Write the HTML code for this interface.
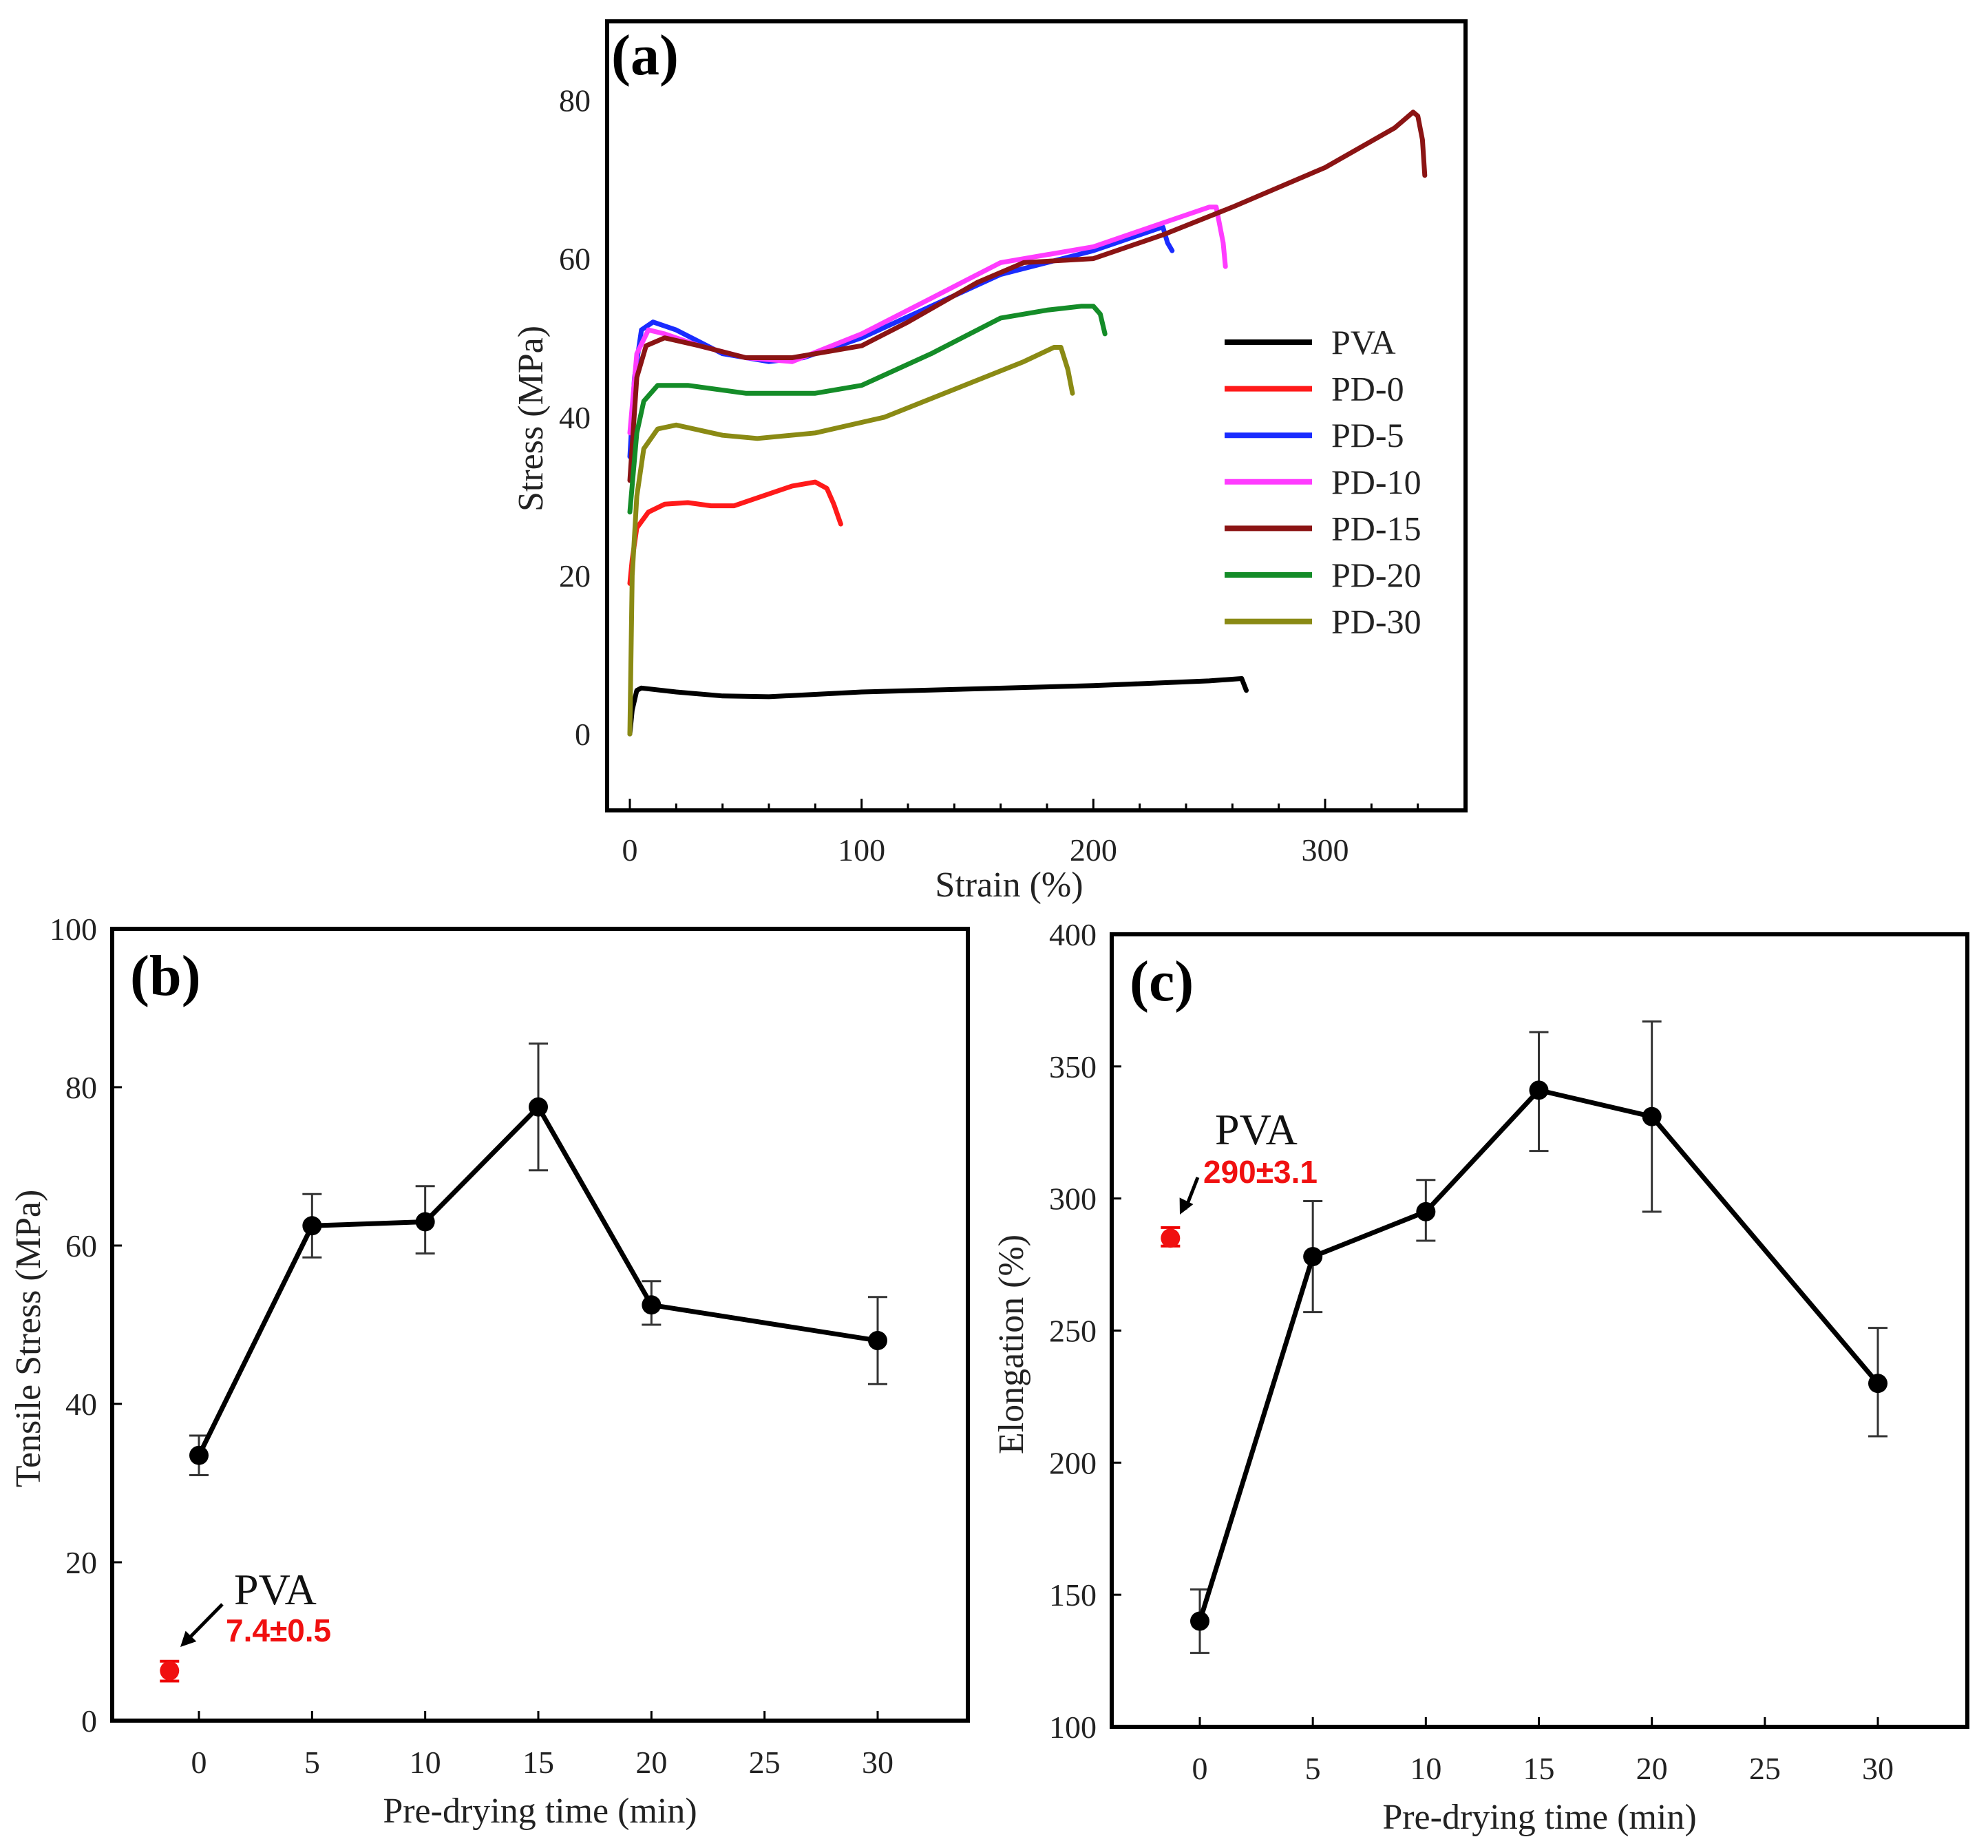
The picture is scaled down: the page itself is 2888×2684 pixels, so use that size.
<!DOCTYPE html>
<html><head><meta charset="utf-8"><style>
html,body{margin:0;padding:0;background:#fff}
svg{display:block;font-family:"Liberation Serif",serif}
</style></head><body>
<svg id="fig" xmlns="http://www.w3.org/2000/svg" width="2888" height="2684" viewBox="0 0 2888 2684">
<rect x="0" y="0" width="2888" height="2684" fill="#fff"/>
<g id="pa"></g>
<g id="pb"></g>
<g id="pc"></g>
</svg>
<script>
// ---- Panel (a) data ----
const seriesNames = ["PVA","PD-0","PD-5","PD-10","PD-15","PD-20","PD-30"];
const seriesColors = ["#000000","#ff1a1a","#1a2cff","#ff3cff","#8b1414","#148c28","#8a8a14"];
const strainPVA = [0,1,3,5,20,40,60,80,100,150,200,250,264,266];
const stressPVA = [0,3,5.5,5.8,5.3,4.8,4.7,5,5.3,5.7,6.1,6.7,7,5.5];
const strainPD0 = [0,1,3,8,15,25,35,45,55,70,80,85,88,91];
const stressPD0 = [19,22,26,28,29,29.2,28.8,28.8,29.8,31.3,31.8,31,29,26.5];
const strainPD5 = [0,2,5,10,20,40,60,75,100,130,160,200,230,232,234];
const stressPD5 = [35,45,51,52,51,48,47,47.5,50,54,58,61,64,62,61];
const strainPD10 = [0,3,8,15,30,50,70,100,130,160,200,230,250,253,256,257];
const stressPD10 = [38,48,51,50.5,49,47.5,47,50.5,55,59.5,61.5,64.5,66.5,66.5,62,59];
const strainPD15 = [0,3,7,15,30,50,70,100,120,150,170,200,230,260,300,330,338,340,342,343];
const stressPD15 = [32,45,49,50,49,47.5,47.5,49,52,57,59.5,60,63,66.5,71.5,76.5,78.5,78,75,70.5];
const strainPD20 = [0,3,6,12,25,50,80,100,130,160,180,195,200,203,205];
const stressPD20 = [28,38,42,44,44,43,43,44,48,52.5,53.5,54,54,53,50.5];
const strainPD30 = [0,1,3,6,12,20,40,55,80,110,140,170,183,186,189,191];
const stressPD30 = [0,20,30,36,38.5,39,37.7,37.3,38,40,43.5,47,48.8,48.8,46,43];
const aXTicks = [0,100,200,300];
const aYTicks = [0,20,40,60,80];
// ---- Panel (b) data ----
const timeCats = [0,5,10,15,20,30];
const bXTicks = [0,5,10,15,20,25,30];
const bYTicks = [0,20,40,60,80,100];
const tensileMean = [33.5,62.5,63,77.5,52.5,48];
const tensileLow = [31,58.5,59,69.5,50,42.5];
const tensileHigh = [36,66.5,67.5,85.5,55.5,53.5];
const pvaTensile = [6.3,5,7.5];
// ---- Panel (c) data ----
const cYTicks = [100,150,200,250,300,350,400];
const elongMean = [140,278,295,341,331,230];
const elongLow = [128,257,284,318,295,210];
const elongHigh = [152,299,307,363,367,251];
const pvaElong = [285,282,289];

const NS="http://www.w3.org/2000/svg";
function mk(parent,tag,attrs,text){
  const e=document.createElementNS(NS,tag);
  for(const k in attrs) e.setAttribute(k,attrs[k]);
  if(text!==undefined) e.textContent=text;
  parent.appendChild(e); return e;
}
function lin(d0,d1,r0,r1){return v=>r0+(v-d0)*(r1-r0)/(d1-d0);}

// ===== Panel A =====
(function(){
  const g=document.getElementById('pa');
  const X=lin(0,300,915,1925), Y=lin(0,80,1066,145.5);
  const series=[[strainPVA,stressPVA],[strainPD0,stressPD0],[strainPD5,stressPD5],[strainPD10,stressPD10],[strainPD15,stressPD15],[strainPD20,stressPD20],[strainPD30,stressPD30]];
  const fr=mk(g,'rect',{x:882,y:31,width:1247,height:1146,fill:'none',stroke:'#000','stroke-width':6});
   
  for(let v=0;v<=340;v+=20){
    const t=mk(g,'line',{x1:X(v),x2:X(v),y1:1177,y2:v%100===0?1160:1167,stroke:'#000','stroke-width':3});
     
  }
  aXTicks.forEach(v=>{
    const t=mk(g,'text',{x:X(v),y:1250,'font-size':46,'text-anchor':'middle',fill:'#222'},String(v));
     
  });
  aYTicks.forEach(v=>{
    const t=mk(g,'text',{x:858,y:Y(v)+16,'font-size':46,'text-anchor':'end',fill:'#222'},String(v));
     
  });
  let t=mk(g,'text',{x:1466,y:1302,'font-size':52,'text-anchor':'middle',fill:'#222'},'Strain (%)');
   
  t=mk(g,'text',{x:0,y:0,'font-size':52,'text-anchor':'middle',fill:'#222',transform:'translate(788,608) rotate(-90)'},'Stress (MPa)');
   
  t=mk(g,'text',{x:888,y:108,'font-size':84,'font-weight':'bold',fill:'#000'},'(a)');
   
  series.forEach((s,i)=>{
    const pts=s[0].map((x,j)=>X(x).toFixed(1)+','+Y(s[1][j]).toFixed(1)).join(' ');
    const p=mk(g,'polyline',{points:pts,fill:'none',stroke:seriesColors[i],'stroke-width':7,'stroke-linejoin':'round','stroke-linecap':'round'});
    
    
    const ly=497+i*67.6;
    const l=mk(g,'line',{x1:1779,x2:1906,y1:ly,y2:ly,stroke:seriesColors[i],'stroke-width':8});
     
    const lt=mk(g,'text',{x:1934,y:ly+17,'font-size':50,fill:'#222'},seriesNames[i]);
     
  });
})();

// ===== Panels B & C =====
function drawPanel(id,box,xr,yr,yTicks,mean,low,high,pva,label,ytitle,ytx,pvaTxt,pvaPos){
  const g=document.getElementById(id);
  const X=lin(0,30,xr[0],xr[1]), Y=lin(yr[0],yr[1],box[3],box[1]);
  const fr=mk(g,'rect',{x:box[0],y:box[1],width:box[2]-box[0],height:box[3]-box[1],fill:'none',stroke:'#000','stroke-width':6});
   
  bXTicks.forEach(v=>{
    const t=mk(g,'line',{x1:X(v),x2:X(v),y1:box[3],y2:box[3]-14,stroke:'#000','stroke-width':3});
     
    const l=mk(g,'text',{x:X(v),y:box[3]+76,'font-size':46,'text-anchor':'middle',fill:'#222'},String(v));
     
  });
  yTicks.forEach(v=>{
    const t=mk(g,'line',{x1:box[0],x2:box[0]+14,y1:Y(v),y2:Y(v),stroke:'#000','stroke-width':3});
     
    const l=mk(g,'text',{x:box[0]-22,y:Y(v)+16,'font-size':46,'text-anchor':'end',fill:'#222'},String(v));
     
  });
  let t=mk(g,'text',{x:(box[0]+box[2])/2,y:box[3]+148,'font-size':52,'text-anchor':'middle',fill:'#222'},'Pre-drying time (min)');
   
  t=mk(g,'text',{x:0,y:0,'font-size':52,'text-anchor':'middle',fill:'#222',transform:'translate('+ytx+','+((box[1]+box[3])/2+20)+') rotate(-90)'},ytitle);
   
  t=mk(g,'text',{x:box[0]+26,y:box[1]+96,'font-size':84,'font-weight':'bold',fill:'#000'},label);
   
  timeCats.forEach((c,i)=>{
    const x=X(c);
    const e=mk(g,'path',{d:`M${x},${Y(low[i])}V${Y(high[i])}M${x-14},${Y(low[i])}H${x+14}M${x-14},${Y(high[i])}H${x+14}`,stroke:'#333','stroke-width':3,fill:'none'});
     
  });
  const pts=timeCats.map((c,i)=>X(c).toFixed(1)+','+Y(mean[i]).toFixed(1)).join(' ');
  const pl=mk(g,'polyline',{points:pts,fill:'none',stroke:'#000','stroke-width':7,'stroke-linejoin':'round'});
   
  timeCats.forEach((c,i)=>{
    const m=mk(g,'circle',{cx:X(c),cy:Y(mean[i]),r:14,fill:'#000'});
     
  });
  const px=X(-1.3);
  const pe=mk(g,'path',{d:`M${px},${Y(pva[1])}V${Y(pva[2])}M${px-14},${Y(pva[1])}H${px+14}M${px-14},${Y(pva[2])}H${px+14}`,stroke:'#e00','stroke-width':4,fill:'none'});
   
  const pc=mk(g,'circle',{cx:px,cy:Y(pva[0]),r:14,fill:'#f01010'});
   
  t=mk(g,'text',{x:pvaPos[0],y:pvaPos[1],'font-size':64,fill:'#111'},'PVA');
   
  t=mk(g,'text',{x:pvaPos[2],y:pvaPos[3],'font-size':46,'font-weight':'bold',fill:'#f01010','font-family':'"Liberation Sans",sans-serif'},pvaTxt);
   
  const a=pvaPos[4];
  const ar=mk(g,'line',{x1:a[0],y1:a[1],x2:a[2]+8,y2:a[3]-8,stroke:'#000','stroke-width':5});
   
  const dx=a[2]-a[0],dy=a[3]-a[1],L=Math.hypot(dx,dy),ux=dx/L,uy=dy/L;
  const ah=mk(g,'polygon',{points:`${a[2]},${a[3]} ${a[2]-ux*22-uy*11},${a[3]-uy*22+ux*11} ${a[2]-ux*22+uy*11},${a[3]-uy*22-ux*11}`,fill:'#000'});
   
}
drawPanel('pb',[163,1349,1406,2499],[289,1275],[0,100],bYTicks,tensileMean,tensileLow,tensileHigh,pvaTensile,'(b)','Tensile Stress (MPa)',58,'7.4±0.5',[340,2330,328,2384,[323,2330,262,2392]]);
drawPanel('pc',[1615,1357,2858,2508],[1743,2728],[100,400],cYTicks,elongMean,elongLow,elongHigh,pvaElong,'(c)','Elongation (%)',1486,'290±3.1',[1765,1662,1748,1718,[1740,1710,1714,1764]]);
</script>
</body></html>
